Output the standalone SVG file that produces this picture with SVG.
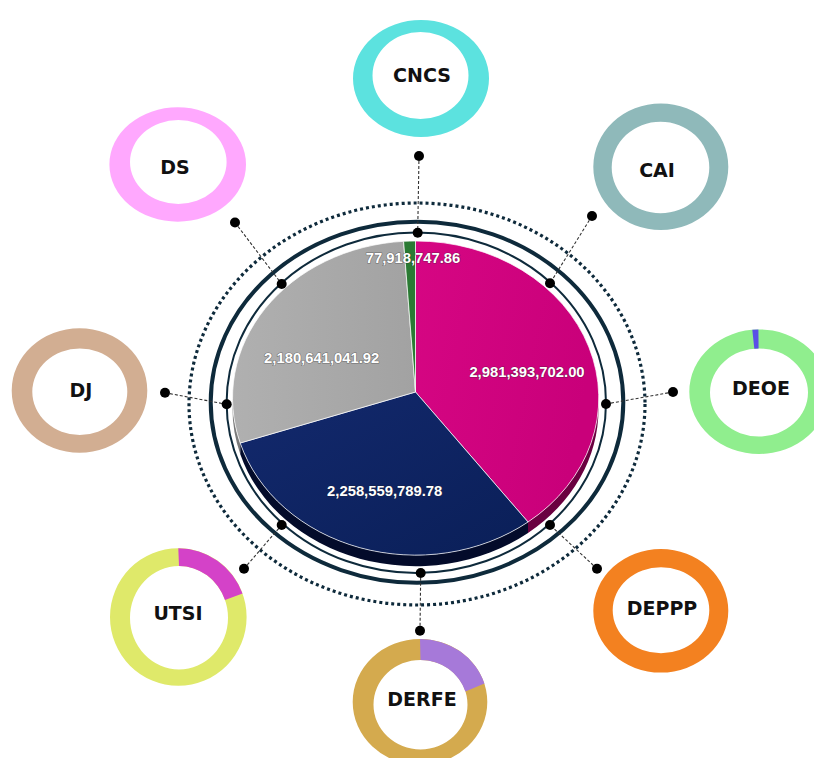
<svg xmlns="http://www.w3.org/2000/svg" width="814" height="758" viewBox="0 0 814 758">
<defs>
<style>
.lbl{font-family:"DejaVu Sans","Liberation Sans",sans-serif;font-weight:bold;font-size:19px;fill:#111;text-anchor:middle}
.val{font-family:"Liberation Sans",Arial,sans-serif;font-weight:bold;font-size:14.8px;fill:#fff;text-anchor:middle;stroke:#222;stroke-width:1.2px;stroke-opacity:0.45;paint-order:stroke}
.conn{stroke:#333;stroke-width:1.1;stroke-dasharray:3 2;fill:none}
.dot{fill:#000}
.ring{fill:none;stroke:#0e2a3b}
.slice{stroke:#fff;stroke-opacity:0.7;stroke-width:1}
</style>
<linearGradient id="gMag" x1="0" y1="0" x2="1" y2="0.3">
<stop offset="0" stop-color="#d60683"/><stop offset="1" stop-color="#c9007a"/>
</linearGradient>
<linearGradient id="gNavy" x1="0" y1="0" x2="1" y2="1">
<stop offset="0" stop-color="#13296d"/><stop offset="1" stop-color="#0a1f58"/>
</linearGradient>
<linearGradient id="gGray" x1="0" y1="0" x2="1" y2="0">
<stop offset="0" stop-color="#b0b0b0"/><stop offset="1" stop-color="#a2a2a2"/>
</linearGradient>
</defs>
<rect width="814" height="758" fill="#fff"/>

<g id="center">
<ellipse class="ring" cx="417" cy="404" rx="228" ry="201" stroke-width="3.2" stroke-dasharray="3 3"/>
<ellipse class="ring" cx="417" cy="402.2" rx="206.3" ry="180.5" stroke-width="4"/>
<ellipse class="ring" cx="416.3" cy="402.8" rx="189.7" ry="170.2" stroke-width="2"/>
<path d="M598.5 398 A183 157 0 0 1 528 522 L528 533 A183 157 0 0 0 598.5 409 Z" fill="#6a0040"/>
<path d="M528 522 A183 157 0 0 1 240.2 443 L240.2 454 A183 157 0 0 0 528 533 Z" fill="#030b2a"/>
<path d="M240.2 443 A183 157 0 0 1 232.5 398 L232.5 409 A183 157 0 0 0 240.2 454 Z" fill="#7a7a7a"/>
<path class="slice" d="M415.5 392 L415.5 241 A183 157 0 0 1 528 522 Z" fill="url(#gMag)"/>
<path class="slice" d="M415.5 392 L528 522 A183 157 0 0 1 240.2 443 Z" fill="url(#gNavy)"/>
<path class="slice" d="M415.5 392 L240.2 443 A183 157 0 0 1 403.6 241.3 Z" fill="url(#gGray)"/>
<path class="slice" d="M415.5 392 L403.6 241.3 A183 157 0 0 1 415.5 241 Z" fill="#2a7a33"/>
<text class="val" x="413" y="262.7">77,918,747.86</text>
<text class="val" x="527" y="376.7">2,981,393,702.00</text>
<text class="val" x="321.7" y="362.7">2,180,641,041.92</text>
<text class="val" x="384.7" y="496">2,258,559,789.78</text>
</g>

<g id="connectors">
<line class="conn" x1="419" y1="156" x2="417.7" y2="232.7"/>
<line class="conn" x1="592" y1="216" x2="550" y2="283.3"/>
<line class="conn" x1="673" y1="392" x2="606" y2="404"/>
<line class="conn" x1="597" y1="568.7" x2="550" y2="525"/>
<line class="conn" x1="420" y1="630.7" x2="420.7" y2="573"/>
<line class="conn" x1="244" y1="568.7" x2="281.7" y2="525"/>
<line class="conn" x1="165" y1="392.7" x2="226.7" y2="404.3"/>
<line class="conn" x1="235" y1="222.5" x2="281.7" y2="284"/>
<circle class="dot" cx="419" cy="156" r="5"/>
<circle class="dot" cx="417.7" cy="232.7" r="5"/>
<circle class="dot" cx="592" cy="216" r="5"/>
<circle class="dot" cx="550" cy="283.3" r="5"/>
<circle class="dot" cx="673" cy="392" r="5"/>
<circle class="dot" cx="606" cy="404" r="5"/>
<circle class="dot" cx="597" cy="568.7" r="5"/>
<circle class="dot" cx="550" cy="525" r="5"/>
<circle class="dot" cx="420" cy="630.7" r="5"/>
<circle class="dot" cx="420.7" cy="573" r="5"/>
<circle class="dot" cx="244" cy="568.7" r="5"/>
<circle class="dot" cx="281.7" cy="525" r="5"/>
<circle class="dot" cx="165" cy="392.7" r="5"/>
<circle class="dot" cx="226.7" cy="404.3" r="5"/>
<circle class="dot" cx="235" cy="222.5" r="5"/>
<circle class="dot" cx="281.7" cy="284" r="5"/>
</g>

<g id="CNCS">
<path fill-rule="evenodd" fill="#5ce2df" d="M353 78.5 A68 58.5 0 1 0 489 78.5 A68 58.5 0 1 0 353 78.5 Z M372.5 75.5 A48 43.5 0 1 0 468.5 75.5 A48 43.5 0 1 0 372.5 75.5 Z"/>
<text class="lbl" x="422" y="82">CNCS</text>
</g>

<g id="DS">
<path fill-rule="evenodd" fill="#ffa8fe" d="M109.4 164.5 A68.3 57.2 0 1 0 246 164.5 A68.3 57.2 0 1 0 109.4 164.5 Z M130 162 A48.3 42 0 1 0 226.6 162 A48.3 42 0 1 0 130 162 Z"/>
<text class="lbl" x="175" y="174">DS</text>
</g>

<g id="CAI">
<path fill-rule="evenodd" fill="#8fb9ba" d="M593.3 166.7 A67.5 63.3 0 1 0 728.3 166.7 A67.5 63.3 0 1 0 593.3 166.7 Z M611.7 167.5 A48.8 45.8 0 1 0 709.3 167.5 A48.8 45.8 0 1 0 611.7 167.5 Z"/>
<text class="lbl" x="657" y="177">CAI</text>
</g>

<g id="DEOE">
<path fill-rule="evenodd" fill="#90ee8e" d="M689.3 391.7 A69.7 62.3 0 1 0 828.7 391.7 A69.7 62.3 0 1 0 689.3 391.7 Z M710 392.5 A49 44 0 1 0 808 392.5 A49 44 0 1 0 710 392.5 Z"/>
<path fill="#5a50e6" d="M752.3 329.7 A69.7 62.3 0 0 1 758.4 329.4 L758.6 348.5 A49 44 0 0 0 754.3 348.7 Z"/>
<text class="lbl" x="761" y="395">DEOE</text>
</g>

<g id="DJ">
<path fill-rule="evenodd" fill="#d2ae92" d="M11.7 390.5 A67.8 62.2 0 1 0 147.3 390.5 A67.8 62.2 0 1 0 11.7 390.5 Z M32.3 391.7 A47.5 43.3 0 1 0 127.3 391.7 A47.5 43.3 0 1 0 32.3 391.7 Z"/>
<text class="lbl" x="81" y="397">DJ</text>
</g>

<g id="UTSI">
<path fill-rule="evenodd" fill="#dfe96a" d="M110 617 A68.3 68.8 0 1 0 246.6 617 A68.3 68.8 0 1 0 110 617 Z M130 617.7 A49 51.7 0 1 0 228 617.7 A49 51.7 0 1 0 130 617.7 Z"/>
<path fill="#d442c8" d="M178.3 548.2 A68.3 68.8 0 0 1 242.5 593.5 L225 600 A49 51.7 0 0 0 179 566 Z"/>
<text class="lbl" x="178" y="620">UTSI</text>
</g>

<g id="DEPPP">
<path fill-rule="evenodd" fill="#f38120" d="M593.3 610.8 A67.5 61.8 0 1 0 728.3 610.8 A67.5 61.8 0 1 0 593.3 610.8 Z M612.7 610.3 A48.3 43 0 1 0 709.3 610.3 A48.3 43 0 1 0 612.7 610.3 Z"/>
<text class="lbl" x="662" y="615">DEPPP</text>
</g>

<g id="DERFE">
<path fill-rule="evenodd" fill="#d4aa4e" d="M352.7 702 A67.3 63 0 1 0 487.3 702 A67.3 63 0 1 0 352.7 702 Z M373.5 704.7 A47 44.7 0 1 0 467.5 704.7 A47 44.7 0 1 0 373.5 704.7 Z"/>
<path fill="#a679d9" d="M420 639 A67.3 63 0 0 1 484.4 683.6 L465.4 691.6 A47 44.7 0 0 0 420.5 660 Z"/>
<text class="lbl" x="422" y="706">DERFE</text>
</g>
</svg>
